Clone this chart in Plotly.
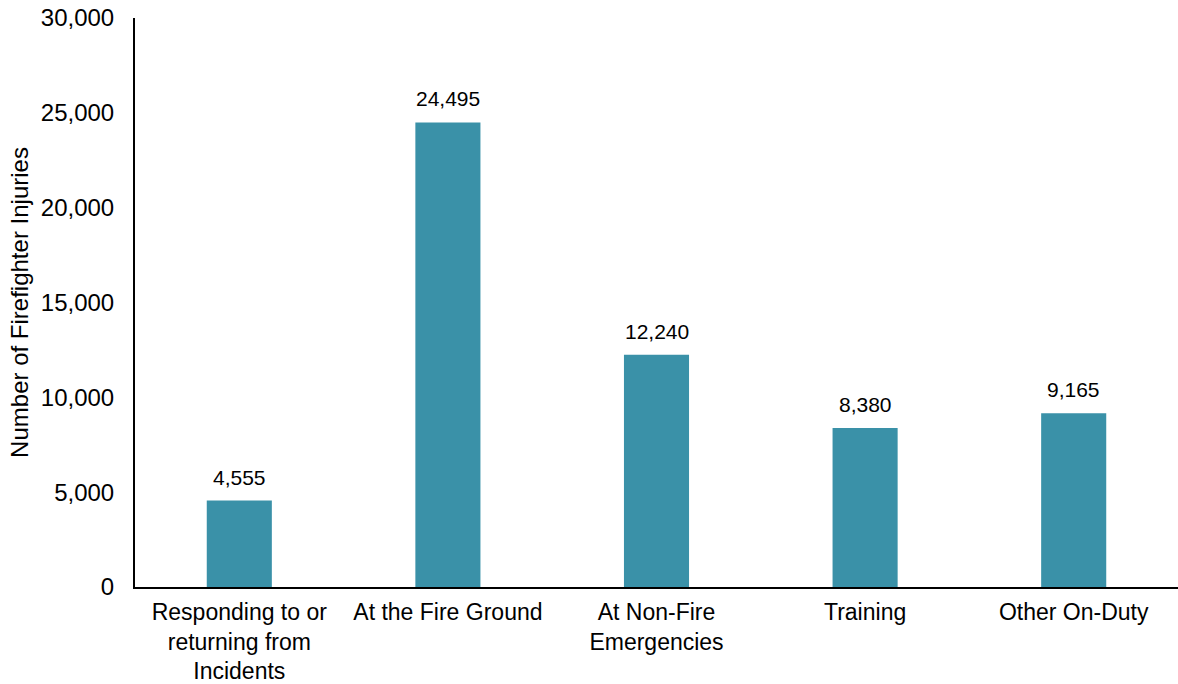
import plotly.graph_objects as go

categories = ["Responding to or<br>returning from<br>Incidents", "At the Fire Ground",
              "At Non-Fire<br>Emergencies", "Training", "Other On-Duty"]
values = [4555, 24495, 12240, 8380, 9165]
tick_vals = [0, 5000, 10000, 15000, 20000, 25000, 30000]
tick_text = ["0", "5,000", "10,000", "15,000", "20,000", "25,000", "30,000"]

fig = go.Figure(go.Bar(
    x=categories, y=values,
    marker=dict(color="#3A91A8", line=dict(width=0)),
))

for c, v in zip(categories, values):
    fig.add_annotation(
        x=c, y=v, text=f"{v:,}", showarrow=False,
        yanchor="bottom", yshift=10,
        font=dict(size=21, color="black", family="Liberation Sans"),
    )

fig.update_layout(
    width=1178, height=684,
    margin=dict(l=135, r=0, t=18, b=97),
    paper_bgcolor="white", plot_bgcolor="white",
    font=dict(family="Liberation Sans", size=24, color="black"),
    bargap=0.688,
    showlegend=False,
)
fig.update_xaxes(
    showline=True, linecolor="black", linewidth=2,
    ticks="", tickfont=dict(size=23), showgrid=False,
    ticklabelstandoff=3, automargin=False,
)
fig.update_yaxes(
    range=[0, 30000], tickvals=tick_vals, ticktext=tick_text,
    showline=True, linecolor="black", linewidth=2,
    ticks="", showgrid=False, zeroline=False,
    tickfont=dict(size=24), ticklabelstandoff=14, automargin=False,
    title=dict(text="Number of Firefighter Injuries", font=dict(size=24), standoff=5),
)

fig.write_html("out.html")
